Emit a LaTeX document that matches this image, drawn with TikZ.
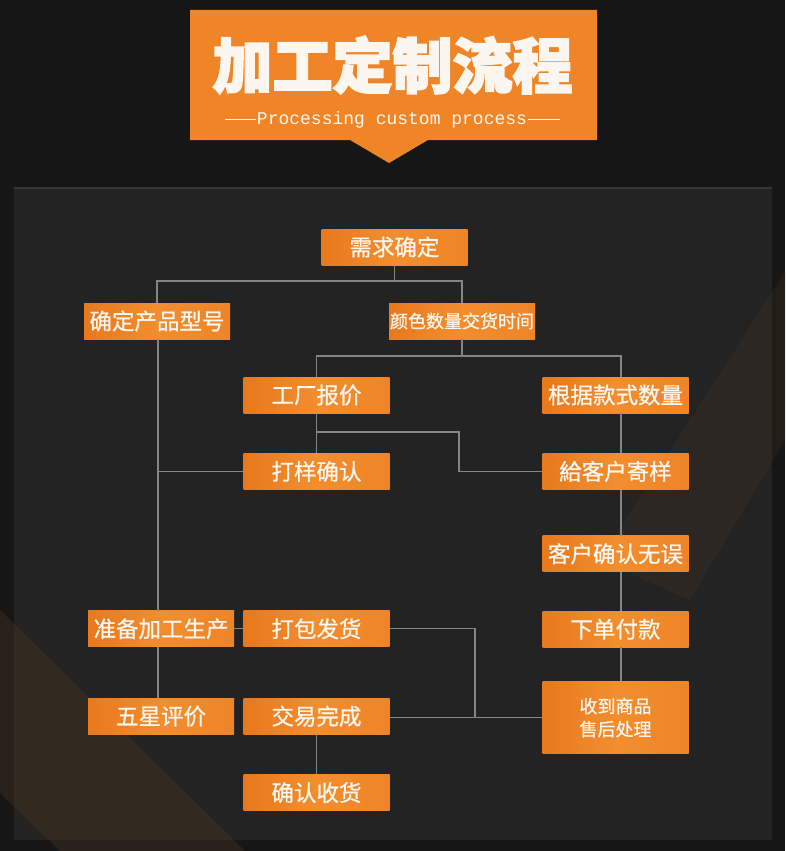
\documentclass[tikz,border=0pt]{standalone}
\usepackage{fontspec}
\setmainfont{Liberation Sans}
\newfontfamily\cjk{Noto Sans CJK SC}[FakeBold=0.8]
\newfontfamily\cjkheavy{Noto Sans CJK SC}[BoldFeatures={FakeBold=3}]
\newfontfamily\monofont{Liberation Mono}
\usepackage{tikz}
\usetikzlibrary{positioning}

\definecolor{bgdark}{HTML}{161616}
\definecolor{panelgray}{HTML}{232323}
\definecolor{paneledge}{HTML}{363636}
\definecolor{glow}{HTML}{4A3320}
\definecolor{bannerorange}{HTML}{EF8526}
\definecolor{boxdark}{HTML}{E8791D}
\definecolor{boxmid}{HTML}{F28E2E}
\definecolor{boxlight}{HTML}{EE8427}
\definecolor{boxtext}{HTML}{FBF6F0}
\definecolor{linegray}{HTML}{858585}

\begin{document}
\begin{tikzpicture}[x=1pt, y=-1pt, node distance=40pt]

  % Define styles for the boxes and the lines
  \tikzstyle{stepbox} = [rectangle, minimum width=146pt, minimum height=36pt, inner sep=0pt,
                         left color=boxdark, right color=boxlight, middle color=boxmid,
                         text=boxtext, font=\cjk\fontsize{22.5}{27}\selectfont]
  \tikzstyle{smallbox} = [stepbox, font=\cjk\fontsize{18}{23}\selectfont, align=center]
  \tikzstyle{link} = [draw=linegray, line width=1.2pt]

  % background, panel and the two faint bands
  \useasboundingbox (0,0) rectangle (785,851);
  \fill[bgdark] (0,0) rectangle (785,851);
  \fill[panelgray] (14,188) rectangle (772,840);
  \draw[paneledge, line width=1.5pt] (14,188) -- (772,188);
  \fill[glow, opacity=0.25] (785,272) -- (785,440) -- (690,600) -- (600,560) -- cycle;
  \fill[glow, opacity=0.4] (0,610) -- (245,851) -- (60,851) -- (0,793) -- cycle;

  % title banner
  \fill[bannerorange] (190,10) -- (597,10) -- (597,140) -- (428,140) -- (389,163)
                      -- (350,140) -- (190,140) -- cycle;
  \node (title) [text=boxtext, font=\cjkheavy\bfseries\fontsize{60}{60}\selectfont] at (392.5,65) {加工定制流程};
  \node (subtitle) [text=boxtext, inner sep=1pt, font=\monofont\fontsize{18}{18}\selectfont] at (392,119.5) {Processing custom process};
  \coordinate (subleft) at (225,119.5);
  \coordinate (subright) at (560,119.5);
  \draw[boxtext, line width=1pt] (subleft) -- (subtitle.west);
  \draw[boxtext, line width=1pt] (subtitle.east) -- (subright);

  % flow boxes
  \node (need) [stepbox] at (394.5,247) {需求确定};
  \node (model) [stepbox] at (157,321) {确定产品型号};
  \node (colour) [smallbox] at (462,321) {颜色数量交货时间};
  \node (quote) [stepbox] at (316.5,395) {工厂报价};
  \node (sizeqty) [stepbox] at (615.5,395) {根据款式数量};
  \node (sample) [stepbox, below=40pt of quote] {打样确认};
  \node (send) [stepbox, below=40pt of sizeqty] {給客户寄样};
  \node (confirm) [stepbox, below=46pt of send] {客户确认无误};
  \node (pay) [stepbox, below=39pt of confirm] {下单付款};
  \node (after) [smallbox, minimum height=72pt, below=34pt of pay] {收到商品\\售后处理};
  \node (pack) [stepbox, below=121pt of sample] {打包发货};
  \node (done) [stepbox, below=51pt of pack] {交易完成};
  \node (receive) [stepbox, below=40pt of done] {确认收货};
  \node (prepare) [stepbox, left=9pt of pack] {准备加工生产};
  \node (rate) [stepbox, left=9pt of done] {五星评价};

  % where the lines turn
  \coordinate (splitA) at (0,281);
  \coordinate (splitB) at (0,356);
  \coordinate (splitC) at (0,432);
  \coordinate (lx) at (158,0);
  \coordinate (rx) at (621,0);
  \coordinate (bx) at (459,0);
  \coordinate (dx) at (475,0);

  \draw[link] (need.south) -- (need.south |- splitA);
  \draw[link] (model.north) -- (model.north |- splitA) -- (colour.north |- splitA) -- (colour.north);
  \draw[link] (colour.south) -- (colour.south |- splitB);
  \draw[link] (quote.north) -- (quote.north |- splitB) -- (rx |- splitB) -- (sizeqty.north -| rx);
  \draw[link] (quote.south) -- (sample.north);
  \draw[link] (quote.south |- splitC) -| (bx |- send.west) -- (send.west);
  \draw[link] (sizeqty.south -| rx) -- (send.north -| rx);
  \draw[link] (send.south -| rx) -- (confirm.north -| rx);
  \draw[link] (confirm.south -| rx) -- (pay.north -| rx);
  \draw[link] (pay.south -| rx) -- (after.north -| rx);
  \draw[link] (model.south -| lx) -- (prepare.north -| lx);
  \draw[link] (prepare.south -| lx) -- (rate.north -| lx);
  \draw[link] (sample.west) -- (sample.west -| lx);
  \draw[link] (prepare.east) -- (pack.west);
  \draw[link] (pack.east) -| (dx |- after.west);
  \draw[link] (done.east |- after.west) -- (after.west);
  \draw[link] (done.south) -- (receive.north);

\end{tikzpicture}
\end{document}
